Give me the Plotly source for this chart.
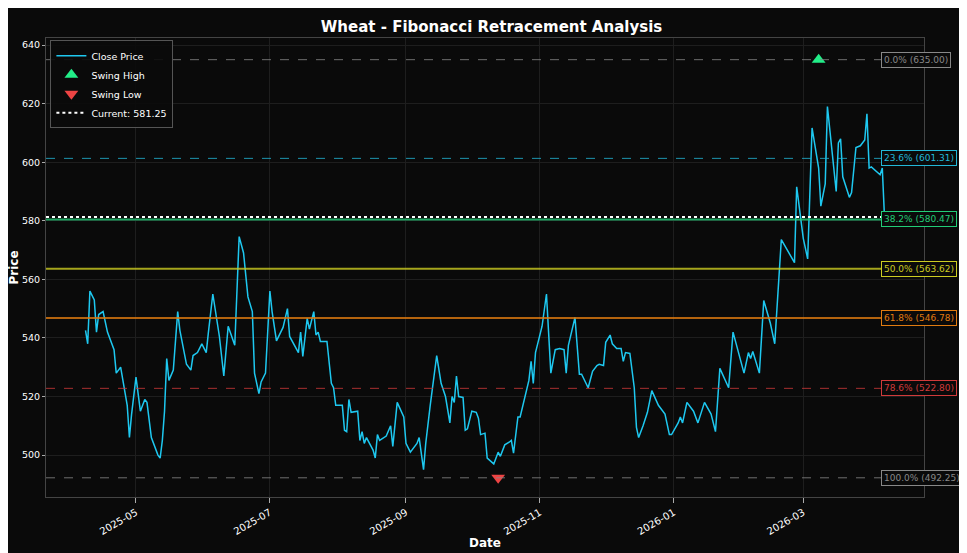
import pandas as pd
import plotly.graph_objects as go

start_date = "2025-04-08"
day_offsets = [0,1,2,4,5,6,8,10,13,14,16,19,20,21,23,25,27,28,30,33,34,35,36,37,38,40,42,43,46,48,49,51,53,55,56,58,61,63,65,68,70,72,74,76,77,79,80,82,84,85,87,90,92,93,97,98,99,101,102,104,105,106,107,110,112,113,114,117,118,119,120,121,124,125,126,127,128,131,132,133,134,137,139,140,142,145,146,148,151,152,154,155,157,160,162,164,166,167,168,169,170,172,173,174,176,178,179,180,182,183,186,188,189,191,193,194,195,197,198,202,203,204,205,208,210,212,214,216,218,219,220,223,225,226,229,231,233,234,236,237,239,240,242,244,245,246,248,249,250,251,252,254,256,258,261,264,266,267,270,271,272,274,277,279,282,285,287,289,293,295,298,300,302,303,304,307,309,312,314,316,317,323,324,327,329,331,334,335,337,338,342,343,344,345,348,349,351,353,355,356,357,358,362,363,364]
close = [542.6,538,556,553,542,548,549,542,536,528,530,517,506,514,526.6,515,519,518,506,500,499,505,515,533,525.5,529,549,542.6,531,529,534,535,538,535,542,555,540.5,527,544,537.5,574.6,569,554,549,528,521,525,528,556,549,539,543.6,550,540.5,535,542,533.7,546.7,543,549,541,542,538.8,538.8,524.5,523,517,517,508.5,508,519,514.6,515,505,508,504,506,501.7,499,507,505,506.5,510,503,518,513,504,501,504,506,495,504,516.7,534,524.5,520,511,520,518,527,520,519.7,508.5,509,515,514.6,512.6,507,507.5,499,497,501,499.6,503.5,504.4,505,500.7,513,513,525.5,532,524.5,535,544,555,528,536,536.4,536,528,537.5,547,527.6,527.6,523,528.6,530.6,531,530.6,538.5,541,538,536.4,536.4,532,535,534.7,528,523,509.5,506,510,514.6,522,517,514,507,507,511,513,511,518,515,511,518,514,508,529.6,523,542,534,528,535,533,535.4,528,552.8,545,538,562,573.6,565.7,591.6,574,567,611.7,598,585,592.6,619,590,606.6,608,595,588,589.6,605,605.6,607.6,616.5,598,598.4,595.7,598,581.25]
swing_high_offset, swing_high = 334, 635.00
swing_low_offset, swing_low = 188, 492.25
current = 581.25
fib_pcts = ["0.0%","23.6%","38.2%","50.0%","61.8%","78.6%","100.0%"]
fib_vals = [635.00,601.31,580.47,563.62,546.78,522.80,492.25]
fib_colors = ["#888888","#22b8d8","#22cc77","#cccc22","#e07b10","#d03a3a","#888888"]
fib_dash = ["dash","dash","solid","solid","solid","dash","dash"]
fib_width = [1,1,2,2,2,1,1]

base = pd.Timestamp(start_date)
dates = [base + pd.Timedelta(days=d) for d in day_offsets]
hi_date = base + pd.Timedelta(days=swing_high_offset)
lo_date = base + pd.Timedelta(days=swing_low_offset)
x0 = base + pd.Timedelta(days=-18)
x1 = base + pd.Timedelta(days=382)

fig = go.Figure()
fig.add_trace(go.Scatter(x=dates, y=close, mode="lines", name="Close Price",
                         line=dict(color="#1ec8f0", width=1.5)))
fig.add_trace(go.Scatter(x=[hi_date], y=[swing_high], mode="markers", name="Swing High",
                         marker=dict(symbol="triangle-up", size=12, color="#22ee88")))
fig.add_trace(go.Scatter(x=[lo_date], y=[swing_low], mode="markers", name="Swing Low",
                         marker=dict(symbol="triangle-down", size=12, color="#ee4444")))
for p, v, c, d, w in zip(fib_pcts, fib_vals, fib_colors, fib_dash, fib_width):
    fig.add_hline(y=v, line=dict(color=c, dash=d, width=w), opacity=0.8)
    fig.add_annotation(x=dates[-1], y=v, text=f"{p} ({v:.2f})", showarrow=False,
                       xanchor="left", xshift=-3, font=dict(color=c, size=9, family="DejaVu Sans"),
                       bgcolor="#0a0a0a", bordercolor=c, borderwidth=1, borderpad=2)
fig.add_trace(go.Scatter(x=[x0, x1], y=[current, current],
                         mode="lines", name=f"Current: {current:.2f}",
                         line=dict(color="white", dash="dot", width=2)))
fig.add_annotation(xref="paper", yref="paper", x=0, xshift=-33, y=0.5, text="<b>Price</b>",
                   textangle=-90, showarrow=False, xanchor="center",
                   font=dict(size=12, color="white", family="DejaVu Sans"))

fig.update_layout(
    width=967, height=553, paper_bgcolor="#0a0a0a", plot_bgcolor="#0a0a0a",
    margin=dict(l=38, r=51, t=30, b=64, autoexpand=False),
    title=dict(text="<b>Wheat - Fibonacci Retracement Analysis</b>", x=0.5, y=0.975,
               font=dict(color="white", size=15, family="DejaVu Sans")),
    font=dict(color="white", family="DejaVu Sans", size=10),
    showlegend=True,
    legend=dict(x=0.005, y=0.995, xanchor="left", yanchor="top", bgcolor="rgba(10,10,10,0.9)",
                bordercolor="#555", borderwidth=1, font=dict(size=9.5, color="white"),
                tracegroupgap=0),
)
fig.update_xaxes(range=[x0, x1], automargin=False,
                 tickvals=pd.to_datetime(["2025-05-01","2025-07-01","2025-09-01","2025-11-01","2026-01-01","2026-03-01"]),
                 tickformat="%Y-%m", tickangle=-30, showgrid=True, gridcolor="#1e1e1e",
                 linecolor="#444", mirror=True, showline=True, ticks="outside", tickcolor="#aaa",
                 zeroline=False, title=dict(text="<b>Date</b>", font=dict(size=12), standoff=2))
fig.update_yaxes(range=[485.7, 642.4], dtick=20, showgrid=True, gridcolor="#1e1e1e", automargin=False,
                 linecolor="#444", mirror=True, showline=True, ticks="outside", tickcolor="#aaa",
                 zeroline=False, ticklen=3, tickfont=dict(size=9.5))
fig.write_html("out.html")
